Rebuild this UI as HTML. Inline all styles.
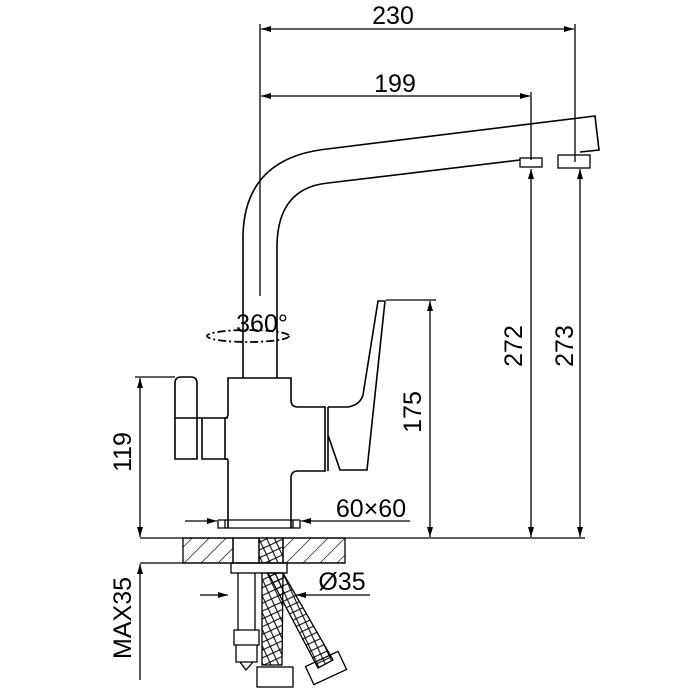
<!DOCTYPE html>
<html><head><meta charset="utf-8"><style>html,body{margin:0;padding:0;background:#fff}svg{display:block}</style></head>
<body>
<svg width="700" height="700" viewBox="0 0 700 700" xmlns="http://www.w3.org/2000/svg">
<defs>
<marker id="a" viewBox="0 0 10 6" refX="10" refY="3" markerWidth="10" markerHeight="6" orient="auto-start-reverse" markerUnits="userSpaceOnUse"><path d="M0,0 L10,3 L0,6 Z" fill="#000"/></marker>
<pattern id="h" width="12" height="12" patternUnits="userSpaceOnUse" patternTransform="rotate(45)"><line x1="0" y1="0" x2="0" y2="12" stroke="#000" stroke-width="1.3"/></pattern>
<pattern id="x" width="10" height="10" patternUnits="userSpaceOnUse" patternTransform="rotate(20)"><path d="M0,0 L10,10 M10,0 L0,10" stroke="#000" stroke-width="1"/></pattern>
</defs>
<g fill="none" stroke="#000" stroke-width="1.6" font-family="Liberation Sans, sans-serif">
<line x1="260" y1="24" x2="260" y2="296" stroke-width="1.3"/>
<line x1="575" y1="24" x2="575" y2="162" stroke-width="1.3"/>
<line x1="531" y1="92" x2="531" y2="160" stroke-width="1.3"/>
<line x1="261" y1="29" x2="574" y2="29" stroke-width="1.3" marker-start="url(#a)" marker-end="url(#a)"/>
<line x1="261" y1="96" x2="530" y2="96" stroke-width="1.3" marker-start="url(#a)" marker-end="url(#a)"/>
<path d="M243,300 L243,235 Q245,158 327,149 L595,116 L599,150 L580,152"/>
<path d="M277,378 L277,245 Q278,188 328,183 L520,160"/>
<path d="M243,300 L243,378"/>
<rect x="520" y="158" width="22" height="9" stroke-width="1.3"/>
<rect x="558" y="155" width="32" height="13" stroke-width="1.3"/>
<ellipse cx="248" cy="336" rx="41" ry="6" stroke-dasharray="8,3,2,3" stroke-width="1.8"/>
<path d="M228,528 L228,460 Q228,459 225,459 L225,418 Q228,418 228,414 L228,378 L291,378 L291,400 Q291,407 298,407 L325,407 L325,471 L298,471 Q291,471 291,478 L291,528"/>
<path d="M328,407 L328,471 M328,435 L340,470 L367,470 L385,301 L378,301 L363,395 Q360,405 348,407 L328,407"/>
<path d="M175,383 Q175,377 181,377 L191,377 Q197,377 197,383 L197,459 L175,459 Z"/>
<path d="M175,418 L228,418 M202,418 L202,459 L228,459"/>
<path d="M218,520 L218,528 L300,528 L300,520 M225,520 L225,528 M293,520 L293,528 M218,520 L300,520" stroke-width="1.3"/>
<line x1="185" y1="521" x2="217" y2="521" stroke-width="1.3" marker-end="url(#a)"/>
<line x1="410" y1="521" x2="301" y2="521" stroke-width="1.3" marker-end="url(#a)"/>
<line x1="140" y1="538" x2="585" y2="538" stroke-width="1.3"/>
<line x1="140" y1="563" x2="345" y2="563" stroke-width="1.3"/>
<rect x="183" y="538" width="50" height="25" fill="url(#h)" stroke-width="1.3"/>
<rect x="283" y="538" width="62" height="25" fill="url(#h)" stroke-width="1.3"/>
<rect x="233" y="538" width="26" height="25" stroke-width="1.3"/>
<rect x="259" y="538" width="24" height="25" fill="url(#x)" stroke-width="1.3"/>
<rect x="231" y="563" width="56" height="10" stroke-width="1.3"/>
<path d="M238,573 L238,630 M255,573 L255,630 M238,630 L255,630 M234,630 L234,645 L259,645 L259,630 Z M236,645 L236,662 L257,662 L257,645 M240,662 L246,670 L253,662" stroke-width="1.3"/>
<path d="M262,573 L262,665 L282,665 L283,573 Z" fill="url(#x)" stroke-width="1.3"/>
<path d="M268,573 L318,668 L333,660 L283,573 Z" fill="url(#x)" stroke-width="1.3"/>
<rect x="257" y="667" width="36" height="20" stroke-width="1.3"/>
<rect x="308" y="658" width="36" height="20" stroke-width="1.3" transform="rotate(-25 326 668)"/>
<line x1="200" y1="595" x2="228" y2="595" stroke-width="1.3" marker-end="url(#a)"/>
<line x1="370" y1="595" x2="296" y2="595" stroke-width="1.3" marker-end="url(#a)"/>
<line x1="135" y1="377" x2="175" y2="377" stroke-width="1.3"/>
<line x1="140" y1="378" x2="140" y2="537" stroke-width="1.3" marker-start="url(#a)" marker-end="url(#a)"/>
<line x1="140" y1="680" x2="140" y2="564" stroke-width="1.3" marker-end="url(#a)"/>
<line x1="386" y1="300" x2="436" y2="300" stroke-width="1.3"/>
<line x1="430" y1="301" x2="430" y2="537" stroke-width="1.3" marker-start="url(#a)" marker-end="url(#a)"/>
<line x1="531" y1="169" x2="531" y2="537" stroke-width="1.3" marker-start="url(#a)" marker-end="url(#a)"/>
<line x1="580" y1="169" x2="580" y2="537" stroke-width="1.3" marker-start="url(#a)" marker-end="url(#a)"/>
</g>
<g font-family="Liberation Sans, sans-serif" font-size="25" fill="#000">
<text x="393" y="24" text-anchor="middle">230</text>
<text x="395" y="92" text-anchor="middle">199</text>
<text x="262" y="332" text-anchor="middle">360°</text>
<text x="371" y="517" text-anchor="middle">60×60</text>
<text x="342" y="590" text-anchor="middle">Ø35</text>
<text transform="translate(131,452) rotate(-90)" text-anchor="middle">119</text>
<text transform="translate(131,618) rotate(-90)" text-anchor="middle">MAX35</text>
<text transform="translate(421,412) rotate(-90)" text-anchor="middle">175</text>
<text transform="translate(522,346) rotate(-90)" text-anchor="middle">272</text>
<text transform="translate(573,346) rotate(-90)" text-anchor="middle">273</text>
</g>
</svg>
</body></html>
